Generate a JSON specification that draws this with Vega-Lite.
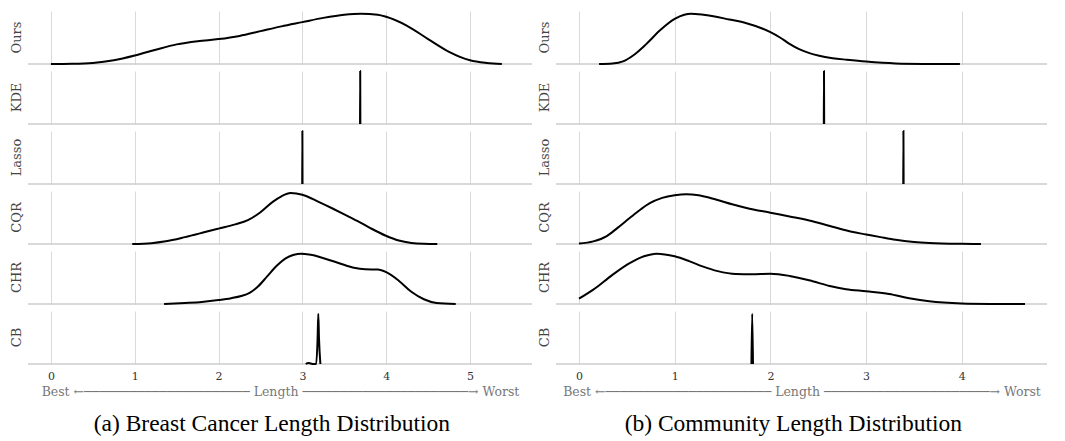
{
  "$schema": "https://vega.github.io/schema/vega-lite/v6.json",
  "padding": {"left": 10, "top": 9, "right": 5, "bottom": 5},
  "background": "white",
  "config": {"view": {"stroke": null}, "concat": {"spacing": 5}},
  "datasets": {
    "breast": [
      {"method": "Ours", "x": 0, "y": 0}, {"method": "Ours", "x": 0.25, "y": 0.004}, {"method": "Ours", "x": 0.5, "y": 0.02}, {"method": "Ours", "x": 0.75, "y": 0.07}, {"method": "Ours", "x": 1.0, "y": 0.16}, {"method": "Ours", "x": 1.25, "y": 0.27}, {"method": "Ours", "x": 1.5, "y": 0.37}, {"method": "Ours", "x": 1.75, "y": 0.43}, {"method": "Ours", "x": 2.0, "y": 0.47}, {"method": "Ours", "x": 2.25, "y": 0.53}, {"method": "Ours", "x": 2.5, "y": 0.62}, {"method": "Ours", "x": 2.75, "y": 0.71}, {"method": "Ours", "x": 3.0, "y": 0.79}, {"method": "Ours", "x": 3.25, "y": 0.87}, {"method": "Ours", "x": 3.5, "y": 0.93}, {"method": "Ours", "x": 3.7, "y": 0.95}, {"method": "Ours", "x": 3.9, "y": 0.93}, {"method": "Ours", "x": 4.0, "y": 0.89}, {"method": "Ours", "x": 4.25, "y": 0.72}, {"method": "Ours", "x": 4.5, "y": 0.47}, {"method": "Ours", "x": 4.75, "y": 0.23}, {"method": "Ours", "x": 5.0, "y": 0.07}, {"method": "Ours", "x": 5.2, "y": 0.02}, {"method": "Ours", "x": 5.38, "y": 0},
      {"method": "KDE", "x": 3.688, "y": 0}, {"method": "KDE", "x": 3.69, "y": 1}, {"method": "KDE", "x": 3.692, "y": 0},
      {"method": "Lasso", "x": 2.998, "y": 0}, {"method": "Lasso", "x": 3.0, "y": 1}, {"method": "Lasso", "x": 3.002, "y": 0},
      {"method": "CQR", "x": 0.97, "y": 0}, {"method": "CQR", "x": 1.2, "y": 0.015}, {"method": "CQR", "x": 1.37, "y": 0.05}, {"method": "CQR", "x": 1.6, "y": 0.13}, {"method": "CQR", "x": 1.85, "y": 0.23}, {"method": "CQR", "x": 2.0, "y": 0.29}, {"method": "CQR", "x": 2.2, "y": 0.37}, {"method": "CQR", "x": 2.35, "y": 0.45}, {"method": "CQR", "x": 2.5, "y": 0.6}, {"method": "CQR", "x": 2.65, "y": 0.8}, {"method": "CQR", "x": 2.75, "y": 0.9}, {"method": "CQR", "x": 2.86, "y": 0.96}, {"method": "CQR", "x": 3.0, "y": 0.93}, {"method": "CQR", "x": 3.2, "y": 0.79}, {"method": "CQR", "x": 3.36, "y": 0.67}, {"method": "CQR", "x": 3.5, "y": 0.56}, {"method": "CQR", "x": 3.66, "y": 0.43}, {"method": "CQR", "x": 3.8, "y": 0.31}, {"method": "CQR", "x": 3.99, "y": 0.16}, {"method": "CQR", "x": 4.15, "y": 0.065}, {"method": "CQR", "x": 4.3, "y": 0.02}, {"method": "CQR", "x": 4.45, "y": 0.004}, {"method": "CQR", "x": 4.61, "y": 0},
      {"method": "CHR", "x": 1.35, "y": 0}, {"method": "CHR", "x": 1.6, "y": 0.02}, {"method": "CHR", "x": 1.8, "y": 0.04}, {"method": "CHR", "x": 2.0, "y": 0.075}, {"method": "CHR", "x": 2.15, "y": 0.11}, {"method": "CHR", "x": 2.27, "y": 0.15}, {"method": "CHR", "x": 2.37, "y": 0.21}, {"method": "CHR", "x": 2.47, "y": 0.33}, {"method": "CHR", "x": 2.58, "y": 0.52}, {"method": "CHR", "x": 2.7, "y": 0.73}, {"method": "CHR", "x": 2.8, "y": 0.86}, {"method": "CHR", "x": 2.9, "y": 0.93}, {"method": "CHR", "x": 2.98, "y": 0.95}, {"method": "CHR", "x": 3.1, "y": 0.93}, {"method": "CHR", "x": 3.36, "y": 0.81}, {"method": "CHR", "x": 3.6, "y": 0.69}, {"method": "CHR", "x": 3.75, "y": 0.655}, {"method": "CHR", "x": 3.9, "y": 0.65}, {"method": "CHR", "x": 4.0, "y": 0.6}, {"method": "CHR", "x": 4.15, "y": 0.44}, {"method": "CHR", "x": 4.3, "y": 0.23}, {"method": "CHR", "x": 4.45, "y": 0.09}, {"method": "CHR", "x": 4.6, "y": 0.02}, {"method": "CHR", "x": 4.83, "y": 0},
      {"method": "CB", "x": 3.04, "y": 0}, {"method": "CB", "x": 3.07, "y": 0.02}, {"method": "CB", "x": 3.1, "y": 0.01}, {"method": "CB", "x": 3.13, "y": 0}, {"method": "CB", "x": 3.165, "y": 0}, {"method": "CB", "x": 3.182, "y": 0.5}, {"method": "CB", "x": 3.19, "y": 0.95}, {"method": "CB", "x": 3.198, "y": 0.5}, {"method": "CB", "x": 3.215, "y": 0}
    ],
    "community": [
      {"method": "Ours", "x": 0.21, "y": 0}, {"method": "Ours", "x": 0.35, "y": 0.01}, {"method": "Ours", "x": 0.46, "y": 0.05}, {"method": "Ours", "x": 0.58, "y": 0.18}, {"method": "Ours", "x": 0.7, "y": 0.37}, {"method": "Ours", "x": 0.85, "y": 0.64}, {"method": "Ours", "x": 1.0, "y": 0.85}, {"method": "Ours", "x": 1.1, "y": 0.93}, {"method": "Ours", "x": 1.17, "y": 0.95}, {"method": "Ours", "x": 1.3, "y": 0.93}, {"method": "Ours", "x": 1.57, "y": 0.84}, {"method": "Ours", "x": 1.75, "y": 0.77}, {"method": "Ours", "x": 1.9, "y": 0.68}, {"method": "Ours", "x": 2.0, "y": 0.6}, {"method": "Ours", "x": 2.1, "y": 0.5}, {"method": "Ours", "x": 2.2, "y": 0.38}, {"method": "Ours", "x": 2.3, "y": 0.28}, {"method": "Ours", "x": 2.4, "y": 0.21}, {"method": "Ours", "x": 2.51, "y": 0.155}, {"method": "Ours", "x": 2.65, "y": 0.11}, {"method": "Ours", "x": 2.8, "y": 0.08}, {"method": "Ours", "x": 3.0, "y": 0.045}, {"method": "Ours", "x": 3.31, "y": 0.01}, {"method": "Ours", "x": 3.6, "y": 0.002}, {"method": "Ours", "x": 3.98, "y": 0},
      {"method": "KDE", "x": 2.558, "y": 0}, {"method": "KDE", "x": 2.56, "y": 1}, {"method": "KDE", "x": 2.562, "y": 0},
      {"method": "Lasso", "x": 3.388, "y": 0}, {"method": "Lasso", "x": 3.39, "y": 1}, {"method": "Lasso", "x": 3.392, "y": 0},
      {"method": "CQR", "x": 0, "y": 0.01}, {"method": "CQR", "x": 0.15, "y": 0.05}, {"method": "CQR", "x": 0.29, "y": 0.15}, {"method": "CQR", "x": 0.4, "y": 0.3}, {"method": "CQR", "x": 0.53, "y": 0.49}, {"method": "CQR", "x": 0.65, "y": 0.66}, {"method": "CQR", "x": 0.74, "y": 0.77}, {"method": "CQR", "x": 0.87, "y": 0.87}, {"method": "CQR", "x": 1.0, "y": 0.92}, {"method": "CQR", "x": 1.12, "y": 0.94}, {"method": "CQR", "x": 1.25, "y": 0.92}, {"method": "CQR", "x": 1.43, "y": 0.84}, {"method": "CQR", "x": 1.6, "y": 0.75}, {"method": "CQR", "x": 1.75, "y": 0.68}, {"method": "CQR", "x": 2.0, "y": 0.59}, {"method": "CQR", "x": 2.2, "y": 0.52}, {"method": "CQR", "x": 2.44, "y": 0.43}, {"method": "CQR", "x": 2.68, "y": 0.31}, {"method": "CQR", "x": 2.85, "y": 0.23}, {"method": "CQR", "x": 3.0, "y": 0.18}, {"method": "CQR", "x": 3.15, "y": 0.13}, {"method": "CQR", "x": 3.31, "y": 0.08}, {"method": "CQR", "x": 3.5, "y": 0.04}, {"method": "CQR", "x": 3.66, "y": 0.02}, {"method": "CQR", "x": 4.0, "y": 0.003}, {"method": "CQR", "x": 4.2, "y": 0},
      {"method": "CHR", "x": 0, "y": 0.1}, {"method": "CHR", "x": 0.15, "y": 0.27}, {"method": "CHR", "x": 0.35, "y": 0.55}, {"method": "CHR", "x": 0.53, "y": 0.77}, {"method": "CHR", "x": 0.68, "y": 0.9}, {"method": "CHR", "x": 0.81, "y": 0.95}, {"method": "CHR", "x": 1.0, "y": 0.9}, {"method": "CHR", "x": 1.15, "y": 0.81}, {"method": "CHR", "x": 1.29, "y": 0.71}, {"method": "CHR", "x": 1.45, "y": 0.62}, {"method": "CHR", "x": 1.64, "y": 0.565}, {"method": "CHR", "x": 1.8, "y": 0.56}, {"method": "CHR", "x": 2.0, "y": 0.57}, {"method": "CHR", "x": 2.2, "y": 0.53}, {"method": "CHR", "x": 2.44, "y": 0.43}, {"method": "CHR", "x": 2.62, "y": 0.34}, {"method": "CHR", "x": 2.79, "y": 0.28}, {"method": "CHR", "x": 3.0, "y": 0.24}, {"method": "CHR", "x": 3.24, "y": 0.19}, {"method": "CHR", "x": 3.45, "y": 0.11}, {"method": "CHR", "x": 3.66, "y": 0.05}, {"method": "CHR", "x": 4.0, "y": 0.01}, {"method": "CHR", "x": 4.3, "y": 0.002}, {"method": "CHR", "x": 4.66, "y": 0},
      {"method": "CB", "x": 1.802, "y": 0}, {"method": "CB", "x": 1.81, "y": 0.95}, {"method": "CB", "x": 1.818, "y": 0}
    ]
  },
  "hconcat": [
    {
      "data": {"name": "breast"},
      "title": {"text": "(a) Breast Cancer Length Distribution", "orient": "bottom", "anchor": "middle", "font": "Liberation Serif", "fontSize": 23.5, "fontWeight": "normal", "color": "#000000", "offset": 14},
      "spacing": 7,
      "bounds": "flush",
      "facet": {"row": {"field": "method", "type": "nominal", "sort": ["Ours", "KDE", "Lasso", "CQR", "CHR", "CB"], "title": null,
        "header": {"labelFont": "DejaVu Serif", "labelFontSize": 13, "labelColor": "#444444", "labelPadding": 4}}},
      "spec": {
        "width": 504, "height": 53,
        "layer": [
          {
            "transform": [{"aggregate": [{"op": "count", "as": "n"}], "groupby": ["method"]}],
            "mark": {"type": "rule", "color": "#cccccc", "strokeWidth": 1.5},
            "encoding": {"y": {"datum": 0, "type": "quantitative", "scale": {"domain": [0, 1]}, "axis": null}}
          },
          {
            "mark": {"type": "line", "color": "#000000", "strokeWidth": 2, "interpolate": "monotone"},
            "encoding": {
              "x": {"field": "x", "type": "quantitative", "scale": {"domain": [-0.274, 5.74], "nice": false, "zero": false},
                "axis": {"values": [0, 1, 2, 3, 4, 5], "grid": true, "gridColor": "#d9d9d9", "ticks": false, "domain": false,
                  "labelFont": "DejaVu Serif", "labelFontSize": 11, "labelColor": "#333333", "labelPadding": 6,
                  "title": "Best ←────────────────────── Length ──────────────────────→ Worst",
                  "titleFont": "DejaVu Serif", "titleFontSize": 12.5, "titleFontWeight": "normal", "titleColor": "#777777", "titlePadding": 4}},
              "y": {"field": "y", "type": "quantitative", "scale": {"domain": [0, 1]}, "axis": null}
            }
          }
        ]
      }
    },
    {
      "data": {"name": "community"},
      "title": {"text": "(b) Community Length Distribution", "orient": "bottom", "anchor": "middle", "font": "Liberation Serif", "fontSize": 23.5, "fontWeight": "normal", "color": "#000000", "offset": 14},
      "spacing": 7,
      "bounds": "flush",
      "facet": {"row": {"field": "method", "type": "nominal", "sort": ["Ours", "KDE", "Lasso", "CQR", "CHR", "CB"], "title": null,
        "header": {"labelFont": "DejaVu Serif", "labelFontSize": 13, "labelColor": "#444444", "labelPadding": 4}}},
      "spec": {
        "width": 491, "height": 53,
        "layer": [
          {
            "transform": [{"aggregate": [{"op": "count", "as": "n"}], "groupby": ["method"]}],
            "mark": {"type": "rule", "color": "#cccccc", "strokeWidth": 1.5},
            "encoding": {"y": {"datum": 0, "type": "quantitative", "scale": {"domain": [0, 1]}, "axis": null}}
          },
          {
            "mark": {"type": "line", "color": "#000000", "strokeWidth": 2, "interpolate": "monotone"},
            "encoding": {
              "x": {"field": "x", "type": "quantitative", "scale": {"domain": [-0.24, 4.89], "nice": false, "zero": false},
                "axis": {"values": [0, 1, 2, 3, 4], "grid": true, "gridColor": "#d9d9d9", "ticks": false, "domain": false,
                  "labelFont": "DejaVu Serif", "labelFontSize": 11, "labelColor": "#333333", "labelPadding": 6,
                  "title": "Best ←────────────────────── Length ──────────────────────→ Worst",
                  "titleFont": "DejaVu Serif", "titleFontSize": 12.5, "titleFontWeight": "normal", "titleColor": "#777777", "titlePadding": 4}},
              "y": {"field": "y", "type": "quantitative", "scale": {"domain": [0, 1]}, "axis": null}
            }
          }
        ]
      }
    }
  ]
}
